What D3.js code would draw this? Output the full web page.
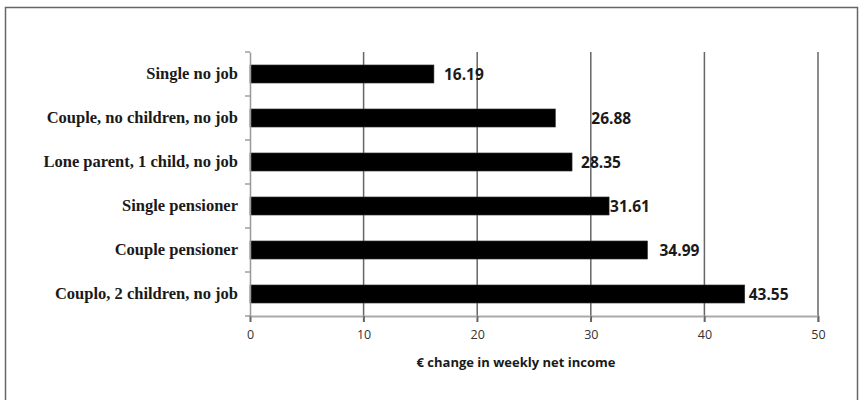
<!DOCTYPE html>
<html>
<head>
<meta charset="utf-8">
<script src="https://cdn.jsdelivr.net/npm/d3@7/dist/d3.min.js"></script>
<style>
  html, body { margin: 0; padding: 0; background: #fff; }
  svg { display: block; }
</style>
</head>
<body>
<svg id="chart" width="859" height="400"></svg>
<script>
// ---- data ----
const categories = [
  "Single no job",
  "Couple, no children, no job",
  "Lone parent, 1 child, no job",
  "Single pensioner",
  "Couple pensioner",
  "Couplo, 2 children, no job"
];
const values = [16.19, 26.88, 28.35, 31.61, 34.99, 43.55];
const valueLabels = ["16.19", "26.88", "28.35", "31.61", "34.99", "43.55"];
const xTicks = [0, 10, 20, 30, 40, 50];
const xTitle = "€ change in weekly net income";

// ---- layout ----
const W = 859, H = 400;
const margin = { top: 52, right: 41, bottom: 84, left: 250 };
const labelDx = [10, 36, 9, 1, 12, 4]; // manual label offsets as in the original

const svg = d3.select("#chart");

// outer frame
svg.append("rect")
  .attr("x", 5.5).attr("y", 7.5)
  .attr("width", 852).attr("height", 400)
  .attr("fill", "#fff").attr("stroke", "#666").attr("stroke-width", 1.5);

const x = d3.scaleLinear().domain([0, 50]).range([margin.left, W - margin.right]);
const y = d3.scaleBand().domain(categories).range([margin.top, H - margin.bottom]).paddingInner(0.59).paddingOuter(0.295);
const yAxisBand = d3.scaleBand().domain(categories).range([margin.top, H - margin.bottom]);

const g = svg.append("g");

// gridlines (extend down to tick length)
g.selectAll("line.grid").data(xTicks.filter(d => d > 0)).join("line")
  .attr("class", "grid")
  .attr("x1", d => x(d)).attr("x2", d => x(d))
  .attr("y1", margin.top).attr("y2", H - margin.bottom + 6)
  .attr("stroke", "#666").attr("stroke-width", 1.5);

// bars
g.selectAll("rect.bar").data(values).join("rect")
  .attr("class", "bar")
  .attr("x", x(0))
  .attr("y", (d, i) => y(categories[i]))
  .attr("width", d => x(d) - x(0))
  .attr("height", y.bandwidth())
  .attr("fill", "#000")
  .attr("stroke", "#333").attr("stroke-width", 0.6);

// value labels
g.selectAll("text.val").data(values).join("text")
  .attr("class", "val")
  .attr("x", (d, i) => x(d) + labelDx[i])
  .attr("y", (d, i) => y(categories[i]) + y.bandwidth() / 2)
  .attr("dy", "0.36em")
  .attr("font-family", "'Open Sans', sans-serif")
  .attr("font-weight", "bold")
  .attr("font-size", 15.5)
  .attr("fill", "#1a1a1a")
  .text((d, i) => valueLabels[i]);

// x axis
const xAxis = g.append("g")
  .attr("transform", `translate(0,${H - margin.bottom})`)
  .call(d3.axisBottom(x).tickValues(xTicks).tickSize(6).tickPadding(8).tickFormat(d3.format("d")));
xAxis.select(".domain").attr("stroke", "#aaa").attr("stroke-width", 2.2);
xAxis.selectAll(".tick line").attr("stroke", "#666").attr("stroke-width", 1.5);
xAxis.selectAll(".tick text")
  .attr("font-family", "'Open Sans', sans-serif")
  .attr("font-size", 12.5)
  .attr("fill", "#333");

// y axis
const yAxis = g.append("g")
  .attr("transform", `translate(${margin.left},0)`)
  .call(d3.axisLeft(yAxisBand).tickSize(0).tickPadding(12));
yAxis.select(".domain").attr("stroke", "#999").attr("stroke-width", 1.5);
yAxis.selectAll(".tick text")
  .attr("font-family", "'Liberation Serif', 'Times New Roman', serif")
  .attr("font-weight", "bold")
  .attr("font-size", 16.5)
  .attr("fill", "#1a1a1a");
// y-axis band boundary ticks
g.selectAll("line.ytick").data(d3.range(categories.length + 1)).join("line")
  .attr("class", "ytick")
  .attr("x1", margin.left - 5).attr("x2", margin.left)
  .attr("y1", i => margin.top + i * yAxisBand.step())
  .attr("y2", i => margin.top + i * yAxisBand.step())
  .attr("stroke", "#888").attr("stroke-width", 1.2);

// x axis title
svg.append("text")
  .attr("x", 516).attr("y", 362)
  .attr("dy", "0.36em")
  .attr("text-anchor", "middle")
  .attr("font-family", "'Open Sans', sans-serif")
  .attr("font-weight", "bold")
  .attr("font-size", 13)
  .attr("fill", "#1a1a1a")
  .text(xTitle);
</script>
</body>
</html>
